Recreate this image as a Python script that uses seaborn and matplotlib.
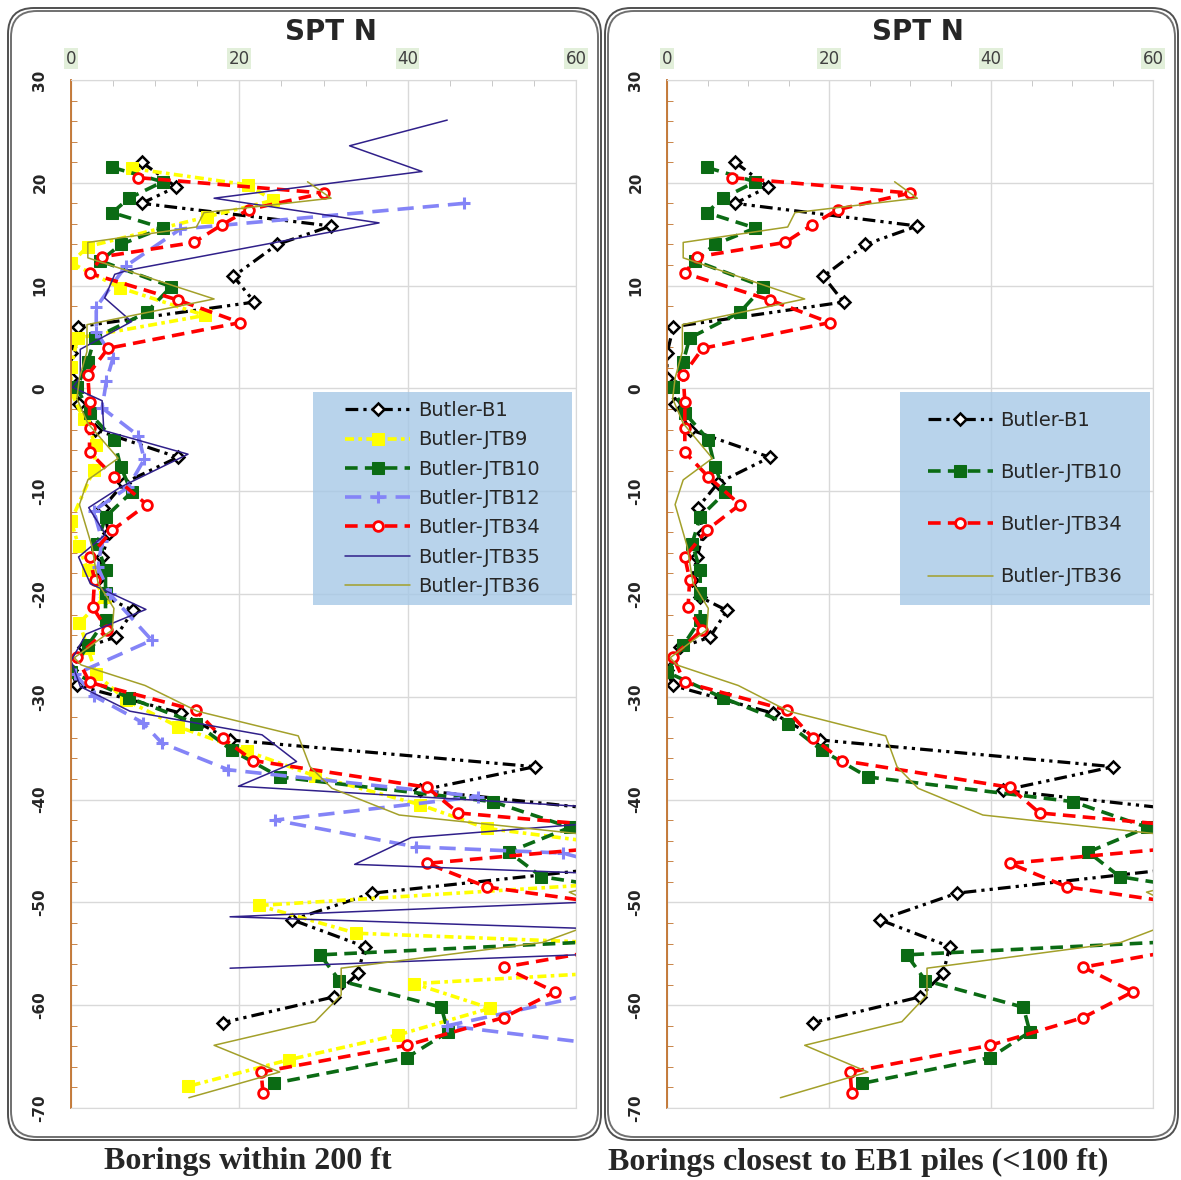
import pandas as pd
import matplotlib.pyplot as plt
import seaborn as sns
from matplotlib.patches import Rectangle, FancyBboxPatch
from matplotlib.ticker import MultipleLocator

# SPT N values vs. elevation (ft)
b1_n = [8.4, 12.5, 8.4, 30.9, 24.5, 19.3, 21.8, 0.8, 0, 0, 1.0, 2.8, 12.7, 6.3, 3.8, 4.5, 3.7, 3.1,
        4.1, 7.4, 5.3, 1.6, 0, 0.7, 13.1, 18.9, 55.1, 41.5, 96, 35.8, 26.3, 34.9, 34.1, 31.2, 18.0]
b1_elev = [22.0, 19.6, 18.0, 15.8, 14.0, 10.9, 8.4, 6.0, 3.4, 1.0, -1.5, -4.0, -6.7, -9.2, -11.6, -14.1,
           -16.4, -18.6, -20.3, -21.6, -24.2, -25.2, -27.4, -28.9, -31.6, -34.2, -36.8, -39.1, -43.8,
           -49.1, -51.7, -54.3, -56.9, -59.2, -61.7]

jtb9_n = [7.2, 21.0, 24.0, 16.2, 2.0, 0, 5.8, 15.9, 0.8, 0, 0, 1.5, 3.0, 2.7, 0, 0.9, 2.0, 4.0, 1.0,
          2.0, 3.0, 6.5, 12.7, 20.9, 29.0, 41.5, 49.4, 89, 22.3, 33.9, 101, 40.8, 49.8, 38.8, 25.9, 13.9]
jtb9_elev = [21.4, 19.8, 18.3, 16.7, 13.8, 12.2, 9.8, 7.1, 4.9, 2.1, -0.3, -3.0, -5.5, -7.9, -12.9,
             -15.3, -17.7, -20.3, -22.8, -25.3, -27.8, -30.3, -32.9, -35.3, -37.7, -40.5, -42.8, -46.9,
             -50.3, -53.0, -55.1, -57.9, -60.3, -62.9, -65.3, -67.9]

jtb10_n = [4.9, 10.9, 6.9, 4.9, 10.9, 5.9, 3.5, 11.9, 9.0, 2.8, 2.0, 0.7, 2.2, 5.1, 5.9, 7.2, 4.1, 3.1,
           4.1, 4.1, 4.1, 2.0, 0, 6.9, 14.9, 19.1, 24.8, 50.1, 59.3, 52.0, 55.9, 96, 29.6, 31.9, 44.0,
           44.8, 39.9, 24.1]
jtb10_elev = [21.5, 20.1, 18.5, 17.1, 15.6, 14.0, 12.4, 9.9, 7.4, 4.9, 2.6, 0.1, -2.4, -5.0, -7.6,
              -10.1, -12.5, -15.1, -17.7, -19.9, -22.5, -25.0, -27.6, -30.1, -32.6, -35.2, -37.8,
              -40.2, -42.7, -45.1, -47.5, -52.5, -55.1, -57.6, -60.2, -62.6, -65.1, -67.6]

jtb12_n = [46.7, 13.0, 6.5, 3.0, 3.0, 5.0, 4.2, 3.7, 8.0, 8.7, 6.8, 2.7, 3.7, 3.2, 4.6, 9.6, 0.5, 2.7,
           8.5, 10.8, 18.7, 48.4, 24.2, 41.0, 58.4, 95, 44.7, 75]
jtb12_elev = [18.0, 15.5, 11.9, 7.9, 5.5, 3.0, 0.7, -1.9, -4.6, -6.9, -9.6, -11.9, -14.8, -17.4, -20.0,
              -24.5, -27.8, -29.9, -32.5, -34.5, -37.1, -39.7, -42.0, -44.6, -45.2, -53.0, -62.0, -65.0]

jtb34_n = [8.0, 30.0, 21.1, 17.9, 14.6, 3.7, 2.2, 12.7, 20.1, 4.4, 2.0, 2.2, 2.2, 2.2, 5.1, 9.0, 4.9,
           2.2, 2.8, 2.6, 4.3, 0.7, 2.2, 14.8, 18.0, 21.6, 42.3, 46.0, 78, 42.3, 49.4, 81, 51.4, 57.5,
           51.4, 39.9, 22.6, 22.8]
jtb34_elev = [20.5, 19.0, 17.4, 15.9, 14.2, 12.8, 11.2, 8.6, 6.4, 3.9, 1.3, -1.3, -3.9, -6.2, -8.6,
              -11.3, -13.8, -16.4, -18.6, -21.3, -23.5, -26.1, -28.6, -31.3, -34.0, -36.2, -38.8, -41.3,
              -43.6, -46.2, -48.5, -52.1, -56.3, -58.7, -61.2, -63.9, -66.5, -68.5]

jtb35_n = [44.7, 33.1, 41.7, 17.0, 36.6, 6.8, 5.2, 4.0, 7.2, 1.1, 1.1, 0.2, 3.7, 3.9, 13.9, 5.9, 2.1,
           4.1, 0.9, 2.3, 8.9, 1.8, 0, 1.1, 7.0, 22.7, 26.8, 19.9, 76, 40.4, 33.7, 105, 18.9, 104.5, 18.9]
jtb35_elev = [26.1, 23.6, 21.1, 18.5, 16.1, 11.5, 11.1, 8.8, 6.5, 3.8, 1.1, 0.1, -1.2, -4.1, -6.4,
              -9.6, -11.6, -14.2, -16.4, -19.0, -21.5, -23.9, -26.5, -29.0, -31.4, -33.7, -36.3, -38.7,
              -41.4, -43.7, -46.3, -48.5, -51.4, -53.7, -56.4]

jtb36_n = [28.1, 30.9, 15.8, 14.9, 2.0, 2.0, 17.0, 1.9, 1.9, 1.0, 0.7, 2.0, 5.6, 2.0, 1.0, 2.5, 3.2, 5.1,
           4.9, 0.4, 1.2, 8.8, 15.0, 27.0, 28.4, 31.0, 39.0, 80, 59.2, 65, 56.0, 32.1, 32.1, 29.0, 17.0,
           24.8, 14.0]
jtb36_elev = [20.1, 18.5, 17.1, 15.7, 14.2, 12.7, 8.7, 6.2, 3.6, 1.0, -1.0, -3.4, -6.8, -8.9, -11.3,
              -15.4, -18.9, -21.4, -23.5, -26.2, -26.9, -28.9, -31.4, -33.8, -36.8, -38.9, -41.5, -45.0,
              -49.0, -51.2, -53.9, -56.4, -59.0, -61.6, -63.9, -66.5, -69.0]

y_ticks = [30, 20, 10, 0, -10, -20, -30, -40, -50, -60, -70]
y_tick_labels = ["30", "20", "10", "0", "-10", "-20", "-30", "-40", "-50", "-60", "-70"]
x_ticks = [0, 20, 40, 60]

borings = {
    "Butler-B1": (b1_n, b1_elev),
    "Butler-JTB9": (jtb9_n, jtb9_elev),
    "Butler-JTB10": (jtb10_n, jtb10_elev),
    "Butler-JTB12": (jtb12_n, jtb12_elev),
    "Butler-JTB34": (jtb34_n, jtb34_elev),
    "Butler-JTB35": (jtb35_n, jtb35_elev),
    "Butler-JTB36": (jtb36_n, jtb36_elev),
}

styles = {
    "Butler-B1": dict(color="black", linestyle=(0, (4, 1.6, 1, 1.6, 1, 1.6)), linewidth=2.3,
                      marker="D", markersize=6, markerfacecolor="white", markeredgecolor="black",
                      markeredgewidth=1.8),
    "Butler-JTB9": dict(color="#ffff00", linestyle=(0, (2.5, 1.2, 1, 1.2)), linewidth=2.6,
                        marker="s", markersize=8, markerfacecolor="#ffff00", markeredgecolor="#ffff00"),
    "Butler-JTB10": dict(color="#0b6b14", linestyle=(0, (3.5, 2)), linewidth=2.6,
                         marker="s", markersize=8, markerfacecolor="#0b6b14", markeredgecolor="#0b6b14"),
    "Butler-JTB12": dict(color="#8484f7", linestyle=(0, (4.5, 2.5)), linewidth=2.6,
                         marker="+", markersize=8, markeredgecolor="#8484f7", markeredgewidth=2.2),
    "Butler-JTB34": dict(color="#ff0000", linestyle=(0, (3.5, 2)), linewidth=2.6,
                         marker="o", markersize=7, markerfacecolor="white", markeredgecolor="#ff0000",
                         markeredgewidth=2),
    "Butler-JTB35": dict(color="#30208a", linestyle="-", linewidth=1.1, marker=None),
    "Butler-JTB36": dict(color="#a3a02a", linestyle="-", linewidth=1.1, marker=None),
}

left_set = ["Butler-B1", "Butler-JTB9", "Butler-JTB10", "Butler-JTB12",
            "Butler-JTB34", "Butler-JTB35", "Butler-JTB36"]
right_set = ["Butler-B1", "Butler-JTB10", "Butler-JTB34", "Butler-JTB36"]

sns.set_style("white")
plt.rcParams['font.family'] = ['DejaVu Sans']

W, H = 1181, 1180
fig = plt.figure(figsize=(W / 100, H / 100), dpi=100)

# rounded double frames around each panel
for x0, x1 in [(8, 601), (605, 1178)]:
    for inset, col in [(0, "#505050"), (3, "#707070")]:
        fig.patches.append(FancyBboxPatch(
            ((x0 + inset) / W, 1 - (1140 - inset) / H), (x1 - x0 - 2 * inset) / W, (1132 - 2 * inset) / H,
            boxstyle="round,pad=0,rounding_size=0.022", transform=fig.transFigure,
            fill=False, edgecolor=col, linewidth=1.4))


def draw_panel(ax, names, leg_x0, leg_w, labelspacing):
    for name in names:
        n, elev = borings[name]
        df = pd.DataFrame({"N": n, "Elev": elev})
        sns.lineplot(data=df, x="N", y="Elev", sort=False, estimator=None, ax=ax,
                     label=name, legend=False, **styles[name])
    ax.set_xlim(0, 60)
    ax.set_ylim(-70, 30)
    ax.xaxis.tick_top()
    ax.set_xticks(x_ticks)
    ax.xaxis.set_minor_locator(MultipleLocator(5))
    ax.set_yticks(y_ticks, y_tick_labels)
    ax.yaxis.set_minor_locator(MultipleLocator(2))
    ax.set_xlabel("")
    ax.set_ylabel("")
    ax.grid(True, which="major", color="#d9d9d9", linewidth=1)
    ax.set_axisbelow(True)
    for side in ["top", "right", "bottom"]:
        ax.spines[side].set_color("#d9d9d9")
    ax.spines["left"].set_color("#c0712c")
    ax.spines["left"].set_linewidth(1.3)
    ax.tick_params(axis="x", which="both", direction="in", colors="#bfbfbf", labelcolor="#404040",
                   labelsize=12, pad=9, top=True, bottom=False)
    ax.tick_params(axis="x", which="major", length=0)
    ax.tick_params(axis="x", which="minor", length=4)
    ax.tick_params(axis="y", which="major", direction="out", length=6, color="#c0712c",
                   labelsize=11, pad=11, labelrotation=90)
    ax.tick_params(axis="y", which="minor", direction="in", length=4, color="#c0712c", left=True)
    for lab in ax.get_yticklabels():
        lab.set_fontweight("bold")
        lab.set_va("center")
    for lab in ax.get_xticklabels():
        lab.set_bbox(dict(facecolor="#e2efda", edgecolor="none", pad=1))
    ax.add_patch(Rectangle((leg_x0, 0.4893), leg_w, 0.2072, transform=ax.transAxes,
                           facecolor="#a6c8e6", alpha=0.8, edgecolor="none", zorder=3))
    handles, labels = ax.get_legend_handles_labels()
    ax.legend(handles, labels, loc="center", bbox_to_anchor=(leg_x0 + leg_w / 2, 0.5929),
              frameon=False, fontsize=14, labelspacing=labelspacing, handlelength=3.35,
              handletextpad=0.4, borderpad=0)


ax1 = fig.add_axes([71 / W, 1 - 1108 / H, (576 - 71) / W, (1108 - 80) / H])
ax2 = fig.add_axes([667 / W, 1 - 1108 / H, (1153 - 667) / W, (1108 - 80) / H])
draw_panel(ax1, left_set, 0.479, 0.513, 0.53)
draw_panel(ax2, right_set, 0.4794, 0.5144, 1.71)

fig.text(331 / W, 1 - 32 / H, "SPT N", ha="center", va="center", fontsize=20, fontweight="bold")
fig.text(918 / W, 1 - 32 / H, "SPT N", ha="center", va="center", fontsize=20, fontweight="bold")

fig.text(248 / W, 1 - 1162 / H, "Borings within 200 ft", ha="center", va="center",
         fontsize=23, fontweight="bold", family=["Liberation Serif"])
fig.text(858 / W, 1 - 1162 / H, "Borings closest to EB1 piles (<100 ft)", ha="center", va="center",
         fontsize=23, fontweight="bold", family=["Liberation Serif"])

fig.savefig("out.png", dpi=100)
